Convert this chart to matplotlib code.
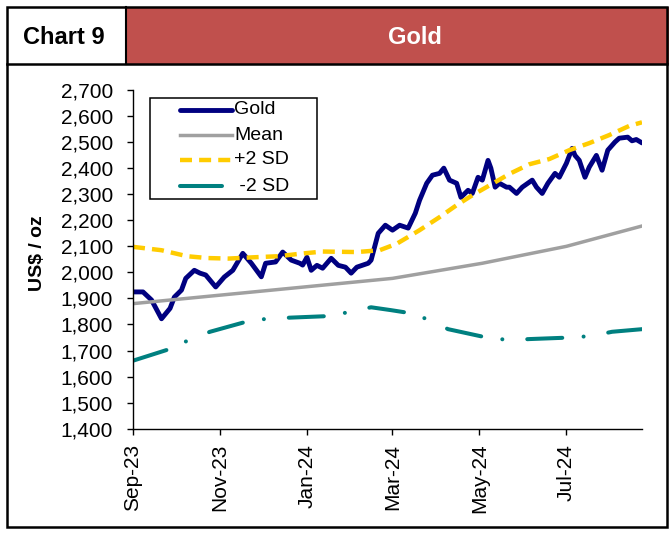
import matplotlib
matplotlib.use("Agg")
import matplotlib.pyplot as plt
import matplotlib.dates as mdates
from matplotlib.patches import Rectangle
from matplotlib.lines import Line2D
from matplotlib.ticker import StrMethodFormatter
import pandas as pd

plt.rcParams['font.family'] = ['Liberation Sans', 'DejaVu Sans']

# --- data ---
gold_dates = [
    "2023-09-15", "2023-09-22", "2023-09-28",
    "2023-10-05", "2023-10-11", "2023-10-14", "2023-10-19", "2023-10-22", "2023-10-28",
    "2023-11-01", "2023-11-05", "2023-11-12", "2023-11-18", "2023-11-24",
    "2023-12-01", "2023-12-07", "2023-12-14", "2023-12-17", "2023-12-24", "2023-12-29",
    "2024-01-04", "2024-01-10", "2024-01-12", "2024-01-15", "2024-01-18", "2024-01-22", "2024-01-26",
    "2024-02-01", "2024-02-06", "2024-02-11", "2024-02-15", "2024-02-19", "2024-02-27", "2024-02-29",
    "2024-03-05", "2024-03-10", "2024-03-15", "2024-03-20", "2024-03-26", "2024-03-31",
    "2024-04-03", "2024-04-08", "2024-04-12", "2024-04-17", "2024-04-20", "2024-04-24", "2024-04-29",
    "2024-05-02", "2024-05-07", "2024-05-10", "2024-05-14", "2024-05-17", "2024-05-21", "2024-05-23",
    "2024-05-26", "2024-05-29",
    "2024-06-03", "2024-06-05", "2024-06-10", "2024-06-14", "2024-06-21", "2024-06-24", "2024-06-28",
    "2024-07-02", "2024-07-07", "2024-07-10", "2024-07-15", "2024-07-19", "2024-07-21", "2024-07-24",
    "2024-07-28", "2024-07-31",
    "2024-08-05", "2024-08-09", "2024-08-13", "2024-08-18", "2024-08-21", "2024-08-27", "2024-08-30",
    "2024-09-02", "2024-09-06",
]
gold = [
    1925, 1925, 1894,
    1822, 1862, 1905, 1932, 1977, 2008,
    1997, 1990, 1944, 1982, 2008,
    2073, 2035, 1983, 2035, 2040, 2078,
    2047, 2035, 2028, 2058, 2008, 2027, 2016,
    2054, 2027, 2020, 1997, 2020, 2035, 2047,
    2150, 2181, 2162, 2181, 2170, 2227,
    2277, 2342, 2373, 2380, 2400, 2354, 2342,
    2288, 2315, 2303, 2365, 2354, 2430, 2400, 2327, 2342,
    2327, 2327, 2303, 2327, 2354, 2327, 2303,
    2342, 2380, 2365, 2419, 2476, 2449, 2430, 2365, 2404,
    2449, 2392, 2469, 2500, 2515, 2519, 2505,
    2510, 2497,
]

mean_dates = ["2023-09-15", "2023-11-14", "2024-01-15", "2024-03-15", "2024-05-17",
              "2024-07-15", "2024-09-06"]
mean = [1880, 1912, 1945, 1977, 2035, 2100, 2178]

up_dates = ["2023-09-15", "2023-10-05", "2023-10-23", "2023-11-06", "2023-11-21", "2023-12-09",
            "2023-12-26", "2024-01-11", "2024-01-26", "2024-02-19", "2024-03-06", "2024-03-18",
            "2024-04-03", "2024-04-17", "2024-04-29", "2024-05-10", "2024-05-24", "2024-06-05",
            "2024-06-19", "2024-07-03", "2024-07-17", "2024-07-31", "2024-08-14", "2024-08-28",
            "2024-09-06"]
plus_2sd = [2098, 2085, 2062, 2055, 2053, 2058, 2062, 2072, 2080, 2078, 2085, 2110,
            2162, 2212, 2258, 2296, 2340, 2378, 2415, 2435, 2469, 2496, 2527, 2562, 2576]

low_dates = ["2023-09-15", "2023-10-12", "2023-10-24", "2023-11-08", "2023-12-03", "2023-12-19",
             "2024-01-02", "2024-01-29", "2024-02-15", "2024-02-29", "2024-03-14", "2024-03-28",
             "2024-04-10", "2024-04-23", "2024-05-20", "2024-06-05", "2024-06-19", "2024-07-18",
             "2024-08-02", "2024-08-16", "2024-09-06"]
minus_2sd = [1661, 1708, 1740, 1772, 1810, 1823, 1826, 1832, 1849, 1866, 1855, 1843,
             1817, 1782, 1750, 1740, 1744, 1750, 1756, 1772, 1782]

tick_dates = ["2023-09-15", "2023-11-15", "2024-01-15", "2024-03-15", "2024-05-15", "2024-07-15"]
series_labels = ["Gold", "Mean", "+2 SD", " -2 SD"]

styles = [
    dict(color='#000080', linewidth=3.5, solid_joinstyle='round', solid_capstyle='round'),
    dict(color='#A0A0A0', linewidth=2.5),
    dict(color='#FFCC00', linewidth=3.2, dashes=(2.7, 1.6), dash_capstyle='butt'),
    dict(color='#008080', linewidth=2.9, dashes=(8.7, 5.3, 0.01, 6.2), dash_capstyle='round'),
]

W, H = 669, 533


def fx(px):
    return px / W


def fy(py):
    return 1 - py / H


fig = plt.figure(figsize=(W / 100, H / 100), dpi=100)
fig.patch.set_facecolor('white')

# header boxes
fig.patches.append(Rectangle((fx(126), fy(64)), fx(669) - fx(126), fy(7) - fy(64),
                             transform=fig.transFigure, facecolor='#C0504D', edgecolor='none'))
fig.patches.append(Rectangle((fx(7), fy(527)), fx(667) - fx(7), fy(7) - fy(527),
                             transform=fig.transFigure, facecolor='none', edgecolor='black',
                             linewidth=1.8))
fig.lines.append(Line2D([fx(7), fx(667)], [fy(64), fy(64)], transform=fig.transFigure,
                        color='black', linewidth=1.8))
fig.lines.append(Line2D([fx(126), fx(126)], [fy(7), fy(64)], transform=fig.transFigure,
                        color='black', linewidth=1.5))
fig.text(fx(23), fy(37), "Chart 9", fontsize=17, fontweight='bold', ha='left', va='center')
fig.text(fx(415), fy(37), "Gold", fontsize=17, fontweight='bold', color='white',
         ha='center', va='center')

# plot area
ax = fig.add_axes([fx(133), fy(428.7), fx(642) - fx(133), fy(90) - fy(428.7)])

all_dates = [gold_dates, mean_dates, up_dates, low_dates]
all_vals = [gold, mean, plus_2sd, minus_2sd]
for d, v, st, lab in zip(all_dates, all_vals, styles, series_labels):
    ax.plot(pd.to_datetime(d), v, label=lab, **st)

ax.set_xlim(pd.Timestamp("2023-09-15"), pd.Timestamp("2024-09-06"))
ax.set_ylim(1400, 2700)
ax.set_yticks(range(1400, 2701, 100))
ax.yaxis.set_major_formatter(StrMethodFormatter('{x:,.0f}'))
ax.set_xticks(pd.to_datetime(tick_dates))
ax.xaxis.set_major_formatter(mdates.DateFormatter('%b-%y'))
for lab in ax.get_xticklabels():
    lab.set_rotation(90)

ax.spines['top'].set_visible(False)
ax.spines['right'].set_visible(False)
for s in ['left', 'bottom']:
    ax.spines[s].set_linewidth(1.0)
ax.tick_params(axis='y', labelsize=15, length=4.3, width=1.0, pad=10, direction='out')
ax.tick_params(axis='x', labelsize=15, length=4.3, width=1.0, pad=6.5, direction='out')

fig.text(fx(38), fy(253), "US$ / oz", fontsize=14, fontweight='bold', rotation=90,
         ha='center', va='center')

# legend box, drawn like the Excel one
fig.patches.append(Rectangle((fx(150), fy(199)), fx(317) - fx(150), fy(98) - fy(199),
                             transform=fig.transFigure, facecolor='white', edgecolor='black',
                             linewidth=1.1, zorder=5))
row_y = [110, 135, 160, 186]
for i, (ry, st, lab) in enumerate(zip(row_y, styles, series_labels)):
    key_style = dict(st)
    x_end = 232
    if i == 3:
        # the -2 SD key only shows one long dash
        key_style.pop('dashes')
        key_style['solid_capstyle'] = 'round'
        x_end = 222
    fig.lines.append(Line2D([fx(180), fx(x_end)], [fy(ry), fy(ry)], transform=fig.transFigure,
                            zorder=6, **key_style))
    fig.text(fx(234), fy(ry), lab, fontsize=14, ha='left', va='center', zorder=7)

fig.savefig("out.png", dpi=100)
